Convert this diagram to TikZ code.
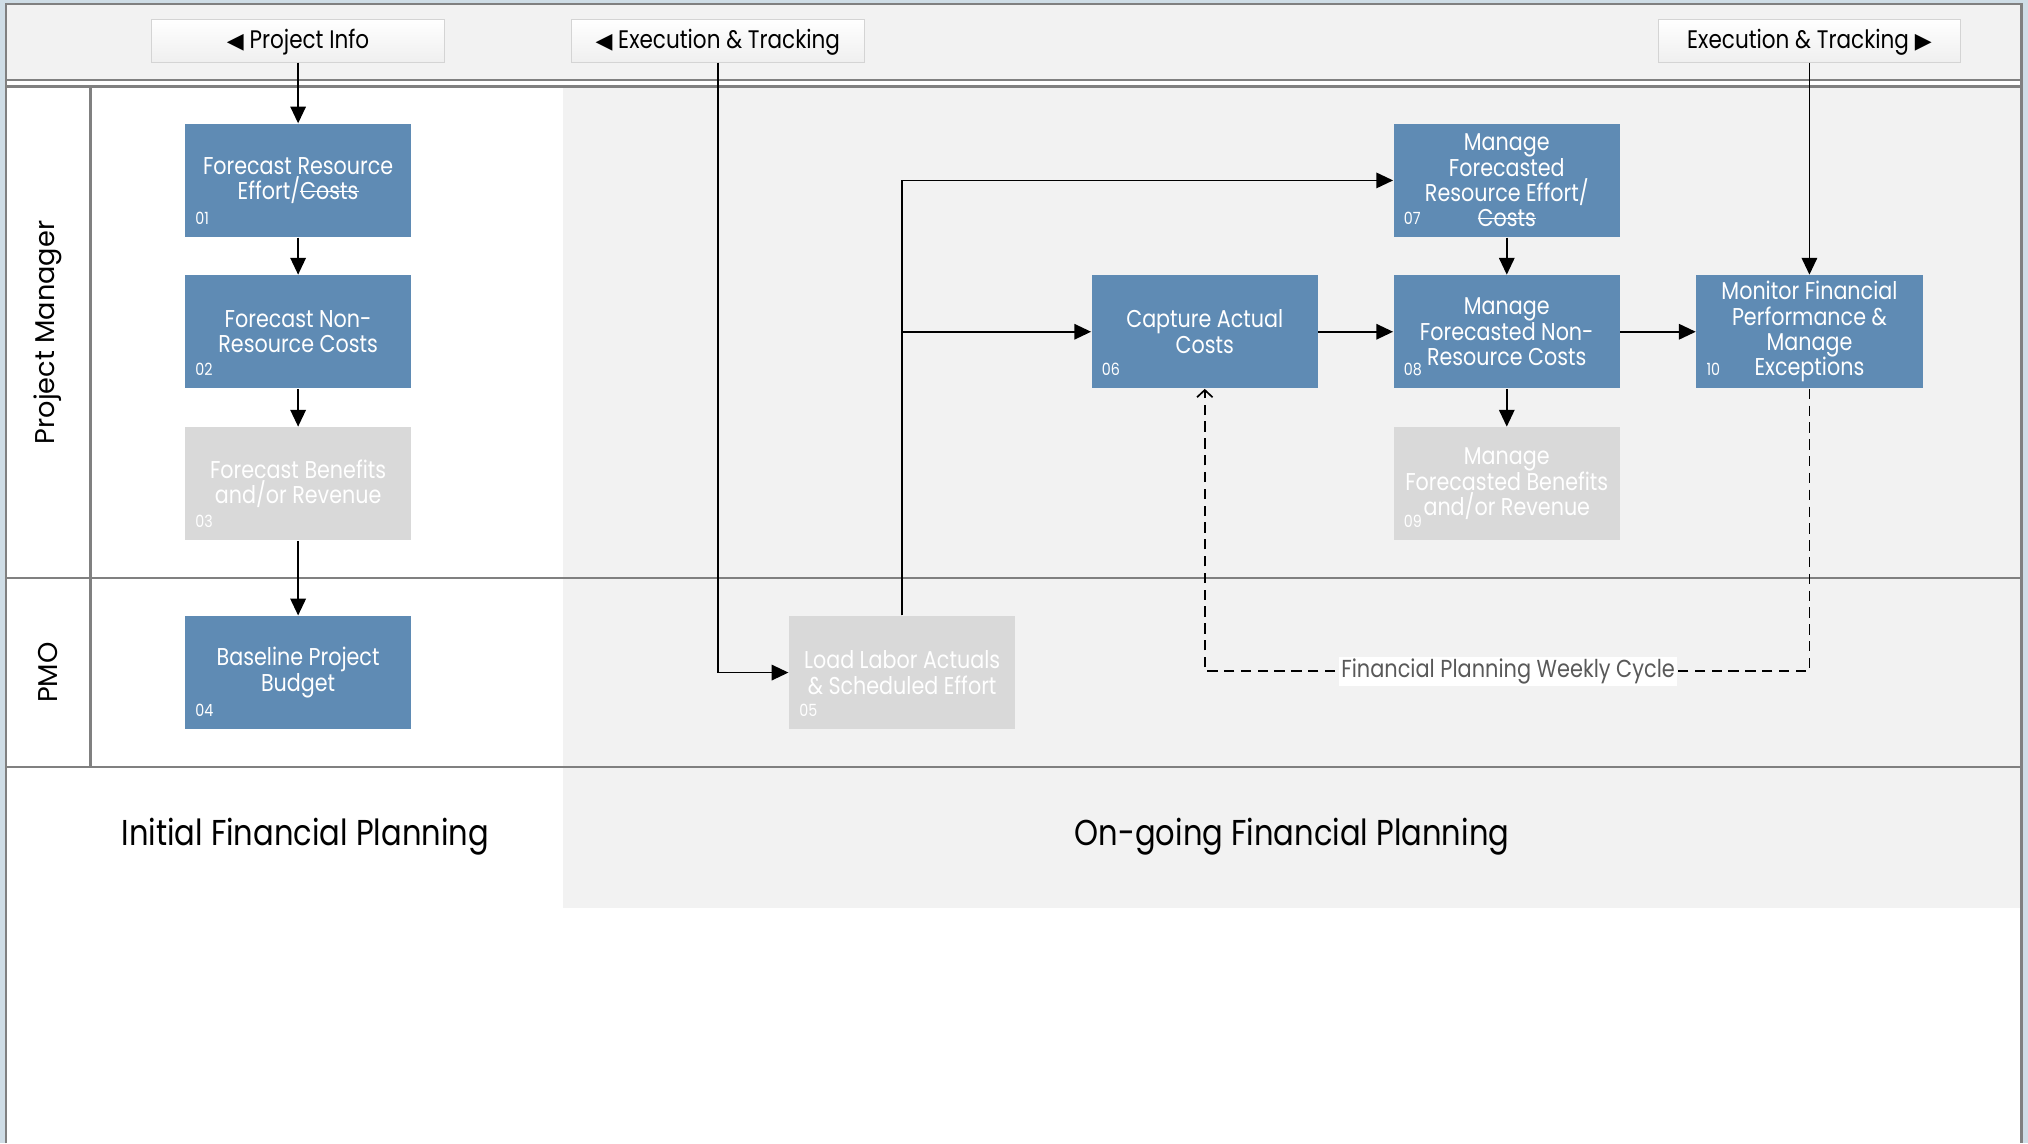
\documentclass[tikz,border=0pt]{standalone}
\usepackage{fontspec}
\setmainfont{Poppins}
\newfontfamily\narrowfont{Poppins}[FakeStretch=0.85]
\newfontfamily\symbfont{DejaVu Sans}
\usetikzlibrary{arrows.meta}

\definecolor{stepblue}{HTML}{5F8BB4}
\definecolor{stepgrey}{HTML}{D9D9D9}
\definecolor{lanebg}{HTML}{F2F2F2}
\definecolor{laneline}{HTML}{808080}
\definecolor{framebg}{HTML}{CFDDE6}
\definecolor{btnedge}{HTML}{D4D4D4}
\definecolor{btnshade}{HTML}{EFEFEF}
\definecolor{cycletext}{HTML}{595959}

\newcommand{\strikeword}[1]{{\leavevmode\setbox0\hbox{#1}\rlap{\rule[0.55ex]{\wd0}{0.5pt}}\box0}}

\tikzset{
  task/.style={rectangle, fill=stepblue, text=white, minimum width=87.5pt,
    minimum height=43.75pt, inner sep=0pt, align=center,
    font=\narrowfont\fontsize{9.4}{9.8}\selectfont},
  taskoff/.style={task, fill=stepgrey},
  num/.style={anchor=south west, inner sep=0pt, xshift=4pt, yshift=5pt,
    text=white, font=\narrowfont\fontsize{6.5}{7}\selectfont},
  navbtn/.style={rectangle, draw=btnedge, top color=white, bottom color=btnshade,
    minimum width=113.5pt, minimum height=16.5pt, inner sep=0pt,
    text height=6.6pt, text depth=0.6pt,
    font=\narrowfont\fontsize{9.8}{10}\selectfont},
  lane/.style={draw=laneline, line width=1pt},
  lanetitle/.style={rotate=90, font=\fontsize{10.5}{12}\selectfont},
  phase/.style={font=\narrowfont\fontsize{13.9}{16}\selectfont},
  flow/.style={-{Triangle[length=6.5pt,width=6pt]}, line width=0.65pt},
  weekly/.style={-{Straight Barb[length=2.8pt,width=6pt]}, line width=0.65pt,
    dash pattern=on 4pt off 2.5pt},
  weeklylabel/.style={fill=white, inner sep=0.8pt, text=cycletext,
    font=\narrowfont\fontsize{9.5}{11}\selectfont}
}

\begin{document}
\begin{tikzpicture}[x=0.5pt,y=-0.5pt]
\useasboundingbox (0,0) rectangle (1568,884);
% frame, header band and lanes
\fill[framebg] (0,0) rectangle (1568,884);
\fill[white] (4.6,3) rectangle (1563,884);
\fill[lanebg] (4.6,3) rectangle (1563,62);
\fill[lanebg] (435,67) rectangle (1563,702);
\draw[lane] (4.6,884) -- (4.6,3) -- (1563,3) -- (1563,884);
\draw[lane] (4.6,62) -- (1563,62);
\draw[lane] (4.6,67) -- (1563,67);
\draw[lane] (4.6,447) -- (1563,447);
\draw[lane] (4.6,593) -- (1563,593);
\draw[lane] (70,67) -- (70,593);

\node[lanetitle] (pm) at (37,257) {Project Manager};
\node[lanetitle] (pmo) at (37,520) {PMO};
\node[phase] (initial) at (236,647) {Initial Financial Planning};
\node[phase] (ongoing) at (999,647) {On-going Financial Planning};

% navigation buttons
\node[navbtn] (info) at (230.5,31.5) {{\symbfont\fontsize{8.5}{8}\selectfont ◀} Project Info};
\node[navbtn] (execl) at (555,31.5) {{\symbfont\fontsize{8.5}{8}\selectfont ◀} Execution \& Tracking};
\node[navbtn, minimum width=116.5pt] (execr) at (1399,31.5) {Execution \& Tracking {\symbfont\fontsize{8.5}{8}\selectfont ▶}};

% process steps
\node[task, label={[num]south west:01}] (t1) at (230.5,139.5) {Forecast Resource\\Effort/\strikeword{Costs}};
\node[task, label={[num]south west:02}] (t2) at (230.5,256.5) {Forecast Non-\\Resource Costs};
\node[taskoff, label={[num]south west:03}] (t3) at (230.5,374) {Forecast Benefits\\and/or Revenue};
\node[task, label={[num]south west:04}] (t4) at (230.5,520) {Baseline Project\\Budget};
\node[taskoff, label={[num]south west:05}] (t5) at (697.5,520) {Load Labor Actuals\\\& Scheduled Effort};
\node[task, label={[num]south west:06}] (t6) at (931.5,256.5) {Capture Actual\\Costs};
\node[task, label={[num]south west:07}] (t7) at (1165,139.5) {Manage\\Forecasted\\Resource Effort/\\\strikeword{Costs}};
\node[task, label={[num]south west:08}] (t8) at (1165,256.5) {Manage\\Forecasted Non-\\Resource Costs};
\node[taskoff, label={[num]south west:09}] (t9) at (1165,374) {Manage\\Forecasted Benefits\\and/or Revenue};
\node[task, label={[num]south west:10}] (t10) at (1399,256.5) {Monitor Financial\\Performance \&\\Manage\\Exceptions};

% connectors
\draw[flow] (info) -- (t1);
\draw[flow] (t1) -- (t2);
\draw[flow] (t2) -- (t3);
\draw[flow] (t3) -- (t4);
\draw[flow] (execl.south) |- (t5);
\draw[flow] (t5.north) |- (t7);
\draw[flow] (t5.north) |- (t6);
\draw[flow] (t6) -- (t8);
\draw[flow] (t7) -- (t8);
\draw[flow] (t8) -- (t9);
\draw[flow] (t8) -- (t10);
\draw[flow] (execr) -- (t10);
\coordinate (loop) at (1166,519);
\draw[weekly] (t10.south) |- (loop) -| (t6.south);
\node[weeklylabel] (weeklytxt) at (loop) {Financial Planning Weekly Cycle};
\end{tikzpicture}
\end{document}
